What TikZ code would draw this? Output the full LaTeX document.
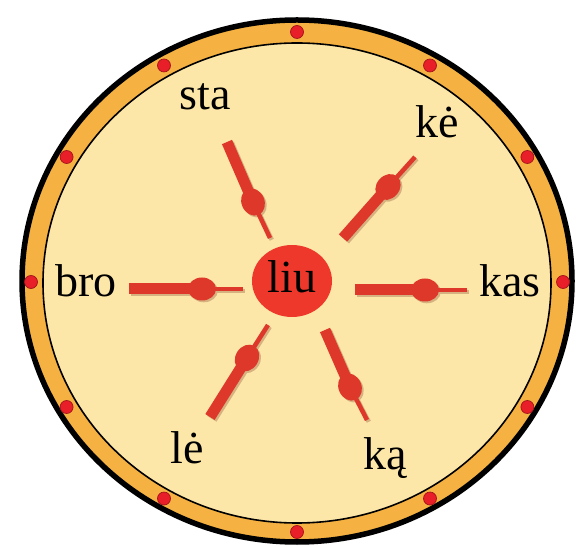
\documentclass[tikz,border=0pt]{standalone}
\usepackage{fontspec}
\setmainfont{Liberation Serif}
\usetikzlibrary{shapes.geometric}
\definecolor{ringorange}{RGB}{245,178,66}
\definecolor{wheelfill}{RGB}{253,231,168}
\definecolor{dotred}{RGB}{232,30,40}
\definecolor{hubred}{RGB}{238,56,44}
\definecolor{spokered}{RGB}{222,56,42}
\definecolor{spokeshade}{RGB}{214,178,128}

\begin{document}
\begin{tikzpicture}[x=1pt, y=1pt,
	word/.style={font=\fontsize{46}{50}\selectfont, anchor=base, inner sep=0pt},
	hub/.style={ellipse, fill=hubred, minimum width=80pt, minimum height=72pt, inner sep=0pt,
		font=\fontsize{46}{50}\selectfont, text height=31pt, text depth=7pt},
	bar/.style={line width=11pt, spokered},
	wire/.style={line width=4.5pt, spokered},
	knot/.style={ellipse, fill=spokered, minimum width=28pt, minimum height=23pt, inner sep=0pt}]
\useasboundingbox (0, 0) rectangle (578, 546);
% ratas
	\draw[line width=5.5pt, fill=ringorange] (297, 265) ellipse [x radius=275, y radius=261]; % išorinis kraštas
	\draw[line width=1.6pt, fill=wheelfill] (297, 263) ellipse [x radius=254, y radius=240]; % vidinis kraštas
% taškai ant rato
	\foreach \a in {0, 30, ..., 330}
		\draw[fill=dotred, draw=dotred!70!black, line width=0.7pt] ([shift={(297, 264)}]\a:266 and 250) circle (6.5);
% centras
	\node[hub] (liu) at (292, 265) {liu};
% skiemenys
	\node[word] (sta) at (205, 436) {sta};
	\node[word] (ke) at (437, 408) {kė};
	\node[word] (bro) at (86, 249) {bro};
	\node[word] (kas) at (510, 249) {kas};
	\node[word] (le) at (187, 82) {lė};
	\node[word] (ka) at (385, 76) {ką};
% stipinai: storas galas, mazgas, plonas galas
	\coordinate (sta1) at (227, 404); \coordinate (sta2) at (253, 344); \coordinate (sta3) at (270, 308);
	\coordinate (ke1) at (343, 308); \coordinate (ke2) at (388, 359); \coordinate (ke3) at (415, 389);
	\coordinate (bro1) at (129, 257); \coordinate (bro2) at (202, 257); \coordinate (bro3) at (243, 257);
	\coordinate (kas1) at (355, 256); \coordinate (kas2) at (425, 256); \coordinate (kas3) at (467, 256);
	\coordinate (le1) at (210, 129); \coordinate (le2) at (247, 188); \coordinate (le3) at (268, 221);
	\coordinate (ka1) at (325, 216); \coordinate (ka2) at (350, 159); \coordinate (ka3) at (367, 126);
	\foreach \s in {sta, ke, bro, kas, le, ka} {
		% šešėlis
		\draw[bar, spokeshade] ([shift={(1.8, -1.8)}]\s1) -- ([shift={(1.8, -1.8)}]\s2)
			node[knot, fill=spokeshade, sloped, pos=1] {};
		\draw[wire, spokeshade] ([shift={(1.8, -1.8)}]\s2) -- ([shift={(1.8, -1.8)}]\s3);
		\draw[bar] (\s1) -- (\s2) node[knot, sloped, pos=1] {};
		\draw[wire] (\s2) -- (\s3);
	}
\end{tikzpicture}
\end{document}
